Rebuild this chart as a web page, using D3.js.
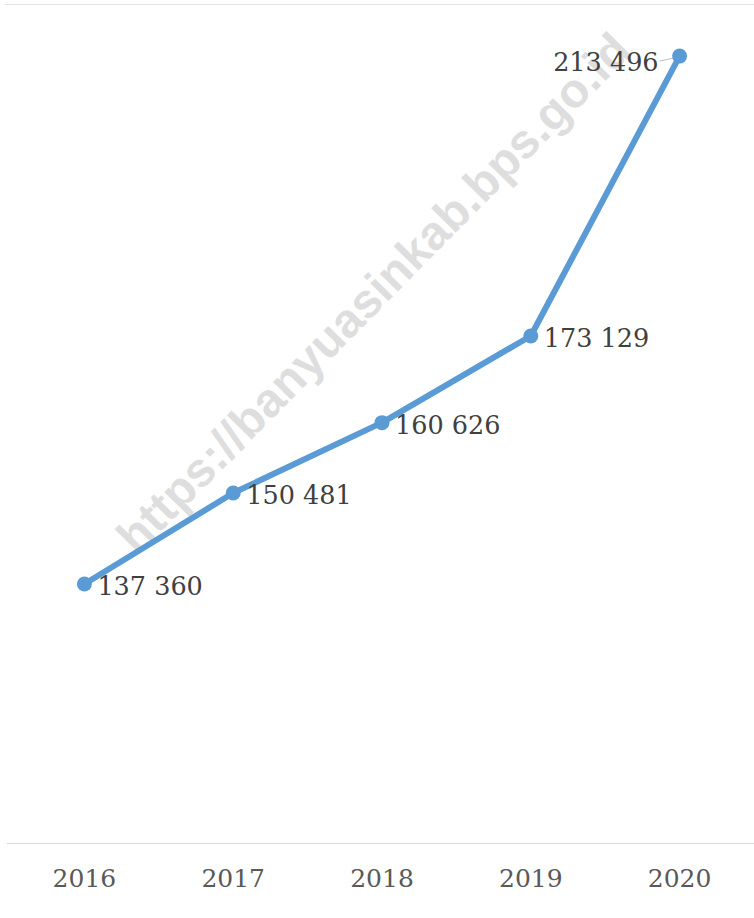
<!DOCTYPE html>
<html>
<head>
<meta charset="utf-8">
<script src="https://cdn.jsdelivr.net/npm/d3@7"></script>
<style>
  html, body { margin: 0; padding: 0; background: #fff; }
  svg { display: block; }
</style>
</head>
<body>
<svg id="chart" width="754" height="918"></svg>
<script>
const years = ["2016", "2017", "2018", "2019", "2020"];
const values = [137360, 150481, 160626, 173129, 213496];
const yDomain = [100000, 220000];
const watermarkText = "https://banyuasinkab.bps.go.id";

const W = 754, H = 918;
const svg = d3.select("#chart");

const x = d3.scaleBand().domain(years).range([10, 754]);
const y = d3.scaleLinear().domain(yDomain).range([843, 11]);
const cx = d => x(d) + x.bandwidth() / 2;

const fmt = v => d3.format(",")(v).replace(/,/g, " ");

// top border line
svg.append("line")
  .attr("x1", 5).attr("x2", 754).attr("y1", 4.5).attr("y2", 4.5)
  .attr("stroke", "#e2e2e2").attr("stroke-width", 1.2);

// watermark (behind marks)
svg.append("text")
  .attr("transform", "translate(137,556) rotate(-45.4)")
  .attr("font-family", "'Liberation Sans', Arial, sans-serif")
  .attr("font-weight", "bold")
  .attr("font-size", 48)
  .attr("fill", "#d4d4d4")
  .attr("fill-opacity", 0.75)
  .text(watermarkText);

// x axis
const xAxis = d3.axisBottom(x).tickSize(0).tickPadding(0);
const gx = svg.append("g").attr("transform", "translate(0,843)").call(xAxis);
gx.select(".domain").attr("d", "M7,0.5H754").attr("stroke", "#d9d9d9").attr("stroke-width", 1.2);
gx.selectAll(".tick text")
  .attr("y", 44).attr("dy", null)
  .attr("font-family", "'DejaVu Serif', serif")
  .attr("font-size", 25)
  .attr("fill", "#595959");

// line
const data = years.map((yr, i) => ({ year: yr, value: values[i] }));
const line = d3.line().x(d => cx(d.year)).y(d => y(d.value));
svg.append("path")
  .datum(data)
  .attr("d", line)
  .attr("fill", "none")
  .attr("stroke", "#5B9BD5")
  .attr("stroke-width", 6)
  .attr("stroke-linejoin", "round");

// leader line for last label
const last = data[data.length - 1];
svg.append("line")
  .attr("x1", cx(last.year) - 20).attr("y1", y(last.value) + 5)
  .attr("x2", cx(last.year) - 6).attr("y2", y(last.value) + 2)
  .attr("stroke", "#bfbfbf").attr("stroke-width", 1);

// points
svg.append("g").selectAll("circle")
  .data(data).join("circle")
  .attr("cx", d => cx(d.year))
  .attr("cy", d => y(d.value))
  .attr("r", 7.5)
  .attr("fill", "#5B9BD5");

// value labels
svg.append("g").selectAll("text")
  .data(data).join("text")
  .attr("x", (d, i) => i === data.length - 1 ? cx(d.year) - 21 : cx(d.year) + 13)
  .attr("y", (d, i) => i === data.length - 1 ? y(d.value) + 15 : y(d.value) + 11)
  .attr("text-anchor", (d, i) => i === data.length - 1 ? "end" : "start")
  .attr("font-family", "'DejaVu Serif', serif")
  .attr("font-size", 25.5)
  .attr("fill", "#404040")
  .text(d => fmt(d.value));
</script>
</body>
</html>
